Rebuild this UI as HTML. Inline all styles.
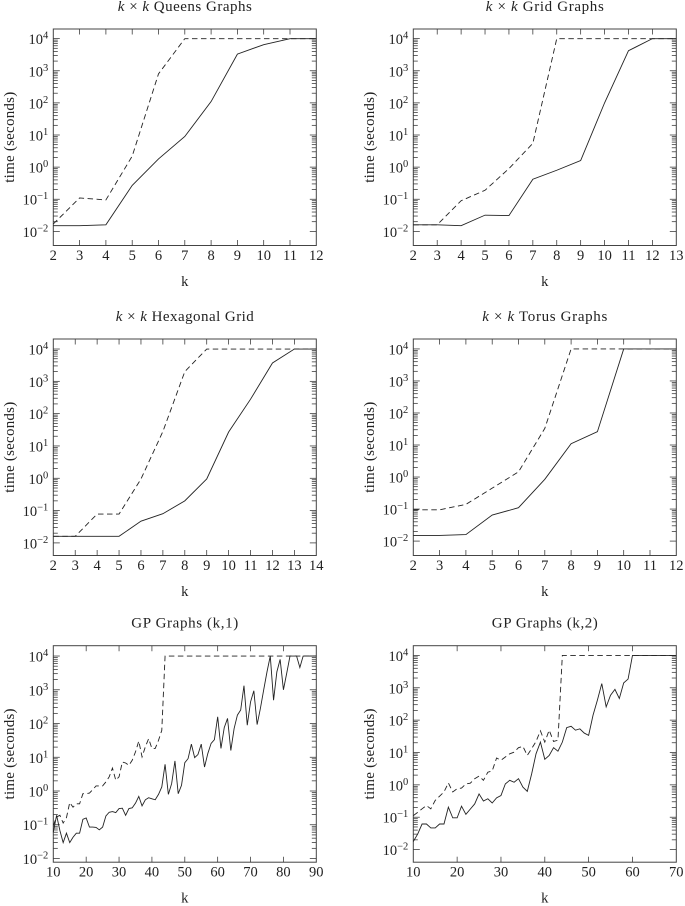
<!DOCTYPE html>
<html lang="en">
<head>
<meta charset="utf-8">
<title>Solver time charts</title>
<style>
  html, body { margin: 0; padding: 0; background: #fff; }
  svg { display: block; font-family: "Liberation Serif", serif; fill: #222; }
</style>
</head>
<body>
<svg id="figure" xmlns="http://www.w3.org/2000/svg" width="685" height="906" viewBox="0 0 685 906"></svg>
<script>
// Times in seconds
const queensSolid = [0.015, 0.015, 0.016, 0.27, 1.8, 9, 110, 3300, 6500, 10000, 10000];
const queensDashed = [0.017, 0.11, 0.095, 2.2, 800, 10000, 10000, 10000, 10000, 10000, 10000];
const gridSolid = [0.016, 0.016, 0.015, 0.032, 0.031, 0.42, 0.8, 1.6, 100, 4200, 10000, 10000];
const gridDashed = [0.016, 0.016, 0.09, 0.19, 0.9, 5.5, 10000, 10000, 10000, 10000, 10000, 10000];
const hexSolid = [0.016, 0.016, 0.016, 0.016, 0.047, 0.08, 0.2, 0.95, 27, 280, 3700, 10000, 10000];
const hexDashed = [0.016, 0.016, 0.078, 0.078, 0.95, 28, 2000, 10000, 10000, 10000, 10000, 10000, 10000];
const torusSolid = [0.015, 0.015, 0.016, 0.065, 0.11, 0.85, 11, 26, 10000, 10000, 10000];
const torusDashed = [0.095, 0.095, 0.14, 0.45, 1.45, 33, 10000, 10000, 10000, 10000, 10000];

// Times as log10(seconds)
const gp1SolidExp = [-1.22, -0.72, -1.17, -1.53, -1.25, -1.53, -1.37, -1.25, -1.25, -0.84,
  -0.80, -1.07, -1.07, -1.08, -1.15, -1.07, -0.74, -0.63, -0.61, -0.64,
  -0.52, -0.51, -0.72, -0.52, -0.50, -0.36, -0.16, -0.44, -0.26, -0.20,
  -0.23, -0.26, -0.10, 0.12, 0.79, -0.10, 0.22, 0.89, -0.08, 0.17,
  0.84, 0.96, 1.39, 0.99, 1.08, 1.39, 0.71, 1.11, 1.41, 1.52,
  2.20, 1.26, 1.88, 2.15, 1.20, 1.85, 2.25, 2.40, 3.12, 1.95,
  2.64, 2.97, 1.97, 2.45, 3.00, 3.53, 4, 2.69, 3.53, 3.90,
  3.00, 3.49, 4, 4, 4, 3.66, 4, 4, 4, 4, 4];
const gp1DashedExp = [-1.02, -0.77, -0.72, -0.95, -0.79, -0.34, -0.48, -0.38, -0.38, -0.08,
  -0.08, -0.06, 0.04, 0.15, 0.15, 0.15, 0.27, 0.42, 0.68, 0.32,
  0.42, 0.86, 0.83, 0.76, 0.91, 1.16, 1.48, 1.01, 1.31, 1.55,
  1.26, 1.26, 1.50, 1.80, 4, 4, 4, 4, 4, 4,
  4, 4, 4, 4, 4, 4, 4, 4, 4, 4,
  4, 4, 4, 4, 4, 4, 4, 4, 4, 4,
  4, 4, 4, 4, 4, 4, 4, 4, 4, 4,
  4, 4, 4, 4, 4, 4, 4, 4, 4, 4, 4];
const gp2SolidExp = [-1.75, -1.52, -1.21, -1.21, -1.33, -1.33, -1.21, -1.21, -0.69, -1.02,
  -1.02, -0.66, -0.91, -0.75, -0.59, -0.28, -0.50, -0.43, -0.56, -0.40,
  -0.33, 0.03, 0.14, 0.08, 0.19, -0.07, -0.20, 0.34, 0.96, 1.32,
  0.79, 0.91, 1.15, 1.04, 1.32, 1.77, 1.81, 1.69, 1.73, 1.60,
  1.53, 2.15, 2.62, 3.13, 2.41, 2.77, 2.95, 2.67, 3.15, 3.27,
  4, 4, 4, 4, 4, 4, 4, 4, 4, 4, 4];
const gp2DashedExp = [-0.95, -0.85, -0.74, -0.64, -0.74, -0.48, -0.35, -0.22, 0.06, -0.22,
  -0.12, -0.10, 0.03, 0.05, 0.19, 0.27, 0.14, 0.39, 0.43, 0.83,
  0.76, 0.86, 0.96, 1.01, 1.15, 1.19, 0.91, 1.12, 1.34, 1.67,
  1.32, 1.69, 1.34, 1.38, 4, 4, 4, 4, 4, 4,
  4, 4, 4, 4, 4, 4, 4, 4, 4, 4,
  4, 4, 4, 4, 4, 4, 4, 4, 4, 4, 4];

const queensTicks = [2, 3, 4, 5, 6, 7, 8, 9, 10, 11, 12];
const gridTicks = [2, 3, 4, 5, 6, 7, 8, 9, 10, 11, 12, 13];
const hexTicks = [2, 3, 4, 5, 6, 7, 8, 9, 10, 11, 12, 13, 14];
const torusTicks = [2, 3, 4, 5, 6, 7, 8, 9, 10, 11, 12];
const gp1Ticks = [10, 20, 30, 40, 50, 60, 70, 80, 90];
const gp2Ticks = [10, 20, 30, 40, 50, 60, 70];
const yTickExponents = [-2, -1, 0, 1, 2, 3, 4];
const minorMultipliers = [2, 3, 4, 5, 6, 7, 8, 9];

const NS = 'http://www.w3.org/2000/svg';
const root = document.getElementById('figure');

function mk(tag, attrs, parent) {
  const el = document.createElementNS(NS, tag);
  for (const key in attrs) el.setAttribute(key, attrs[key]);
  parent.appendChild(el);
  return el;
}

function drawChart(c) {
  const W = 263, H = 216.5;
  const xScale = k => c.left + (k - c.xTicks[0]) / (c.xTicks[c.xTicks.length - 1] - c.xTicks[0]) * W;
  const yScale = e => c.top + (c.yMax - e) / (c.yMax - c.yMin) * H;

  const g = mk('g', {}, root);
  
  

  const title = mk('text', {
    x: c.left + W / 2, y: c.top - 18, 'text-anchor': 'middle', 'font-size': 15,
    textLength: c.titleWidth, lengthAdjust: 'spacing'
  }, g);
  
  
  if (c.mathTitle) {
    mk('tspan', { 'font-style': 'italic' }, title).textContent = 'k';
    mk('tspan', {}, title).textContent = ' × ';
    mk('tspan', { 'font-style': 'italic' }, title).textContent = 'k';
    mk('tspan', {}, title).textContent = ' ' + c.title;
  } else {
    title.textContent = c.title;
  }

  const frame = mk('rect', {
    x: c.left, y: c.top, width: W, height: H, fill: 'none', stroke: '#444', 'stroke-width': 1
  }, g);
  
  

  const ticks = mk('g', { stroke: '#333', 'stroke-width': 0.75, fill: 'none' }, g);
  
  

  c.xTicks.forEach(k => {
    const x = xScale(k);
    if (k !== c.xTicks[0] && k !== c.xTicks[c.xTicks.length - 1]) {
      mk('line', { x1: x, x2: x, y1: c.top, y2: c.top + 5.5 }, ticks);
      mk('line', { x1: x, x2: x, y1: c.top + H, y2: c.top + H - 5.5 }, ticks);
    }
    const label = mk('text', {
      x: x, y: c.top + H + 14.5, 'text-anchor': 'middle', 'font-size': 14.5
    }, g);
    
    
    label.textContent = String(k);
  });

  yTickExponents.forEach(e => {
    const y = yScale(e);
    mk('line', { x1: c.left, x2: c.left + 6.5, y1: y, y2: y }, ticks);
    mk('line', { x1: c.left + W, x2: c.left + W - 6.5, y1: y, y2: y }, ticks);
    if (e < 4) {
      minorMultipliers.forEach(m => {
        const my = yScale(e + Math.log10(m));
        mk('line', { x1: c.left, x2: c.left + 4.5, y1: my, y2: my }, ticks);
        mk('line', { x1: c.left + W, x2: c.left + W - 4.5, y1: my, y2: my }, ticks);
      });
    }
    const label = mk('text', {
      x: c.left - 5, y: y + 5.5, 'text-anchor': 'end', 'font-size': 14.5
    }, g);
    
    
    mk('tspan', {}, label).textContent = '10';
    const sup = mk('tspan', { dy: -5.5, 'font-size': 10.5 }, label);
    sup.textContent = e < 0 ? '\u2212' + Math.abs(e) : String(e);
  });

  const xTitle = mk('text', {
    x: c.left + W / 2, y: c.top + H + 40.5, 'text-anchor': 'middle', 'font-size': 14.5
  }, g);
  
  
  xTitle.textContent = 'k';

  const yx = c.left - 39.5, yy = c.top + H / 2;
  const yTitle = mk('text', {
    x: yx, y: yy, 'text-anchor': 'middle', 'font-size': 15,
    textLength: 91, lengthAdjust: 'spacing',
    transform: 'rotate(-90 ' + yx + ' ' + yy + ')'
  }, g);
  
  
  yTitle.textContent = 'time (seconds)';

  const pathFor = vals => vals.map((v, i) =>
    (i ? 'L' : 'M') + xScale(c.xTicks[0] + i).toFixed(2) + ' ' + yScale(Math.log10(v)).toFixed(2)
  ).join(' ');

  const dashed = mk('path', {
    d: pathFor(c.dashed), fill: 'none', stroke: '#222', 'stroke-width': 0.9,
    'stroke-dasharray': '5.5 3.5'
  }, g);
  
  

  const solid = mk('path', {
    d: pathFor(c.solid), fill: 'none', stroke: '#222', 'stroke-width': 0.9
  }, g);
  
  
}

const toSeconds = list => list.map(e => Math.pow(10, e));

drawChart({ name: 'queens', title: 'Queens Graphs', mathTitle: true, titleWidth: 134, left: 53.3, top: 29, yMin: -2.44, yMax: 4.30, xTicks: queensTicks, solid: queensSolid, dashed: queensDashed });
drawChart({ name: 'grid', title: 'Grid Graphs', mathTitle: true, titleWidth: 118, left: 413.3, top: 29, yMin: -2.44, yMax: 4.30, xTicks: gridTicks, solid: gridSolid, dashed: gridDashed });
drawChart({ name: 'hexagonal', title: 'Hexagonal Grid', mathTitle: true, titleWidth: 138, left: 53.3, top: 339, yMin: -2.39, yMax: 4.31, xTicks: hexTicks, solid: hexSolid, dashed: hexDashed });
drawChart({ name: 'torus', title: 'Torus Graphs', mathTitle: true, titleWidth: 125, left: 413.3, top: 339, yMin: -2.45, yMax: 4.31, xTicks: torusTicks, solid: torusSolid, dashed: torusDashed });
drawChart({ name: 'gp-k-1', title: 'GP Graphs (k,1)', mathTitle: false, titleWidth: 107, left: 53.3, top: 645.7, yMin: -2.11, yMax: 4.306, xTicks: gp1Ticks, solid: toSeconds(gp1SolidExp), dashed: toSeconds(gp1DashedExp) });
drawChart({ name: 'gp-k-2', title: 'GP Graphs (k,2)', mathTitle: false, titleWidth: 106, left: 413.3, top: 645.7, yMin: -2.39, yMax: 4.30, xTicks: gp2Ticks, solid: toSeconds(gp2SolidExp), dashed: toSeconds(gp2DashedExp) });
</script>
</body>
</html>
